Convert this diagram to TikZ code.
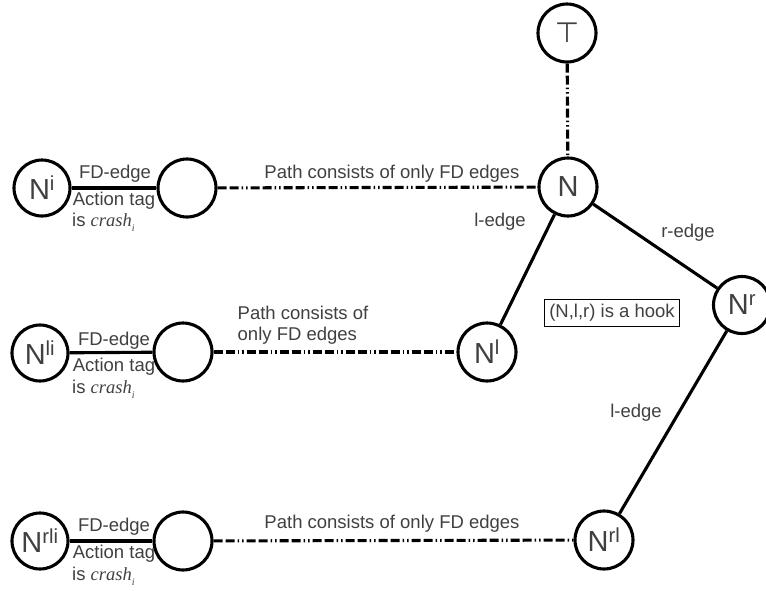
\documentclass[tikz,border=0pt]{standalone}
\usepackage{fontspec}
\setmainfont{Liberation Sans}
\newfontfamily\serifit{Liberation Serif}
\newfontfamily\symfont{DejaVu Sans}
\begin{document}
\begin{tikzpicture}[x=1pt,y=-1pt,
  vert/.style={circle,draw=black,line width=3.1pt,minimum size=58pt,inner sep=0pt,
    text=black!75,font=\fontsize{29}{31}\selectfont},
  lbl/.style={text=black!75,font=\fontsize{18.5}{21}\selectfont,inner sep=1pt},
  edge/.style={line width=3.1pt},
  fdpath/.style={line width=3.1pt,dash pattern=on 9pt off 3pt on 9pt off 3pt on 1.5pt off 3pt on 1.5pt off 3pt}]
\useasboundingbox (0,0) rectangle (766,590);
\newcommand{\crashtag}{is {\serifit\itshape crash}\raisebox{-5pt}{\fontsize{10}{10}\selectfont\serifit\itshape i}}

% top and the hook node
\node[vert,font=\symfont\fontsize{28}{30}\selectfont] (top) at (567,33) {⊤};
\node[vert] (n) at (568,187) {N};
\node[vert] (nl) at (487,352) {N\textsuperscript{l}};
\node[vert,minimum size=57pt] (nr) at (742,305) {N\textsuperscript{r}};
\node[vert] (nrl) at (604,540) {N\textsuperscript{rl}};

% left-hand chains
\node[vert,minimum size=56pt] (ni) at (42,188) {N\textsuperscript{i}};
\node[vert] (ei) at (187,188) {};
\node[vert,minimum size=56pt] (nli) at (40,353) {N\textsuperscript{li}};
\node[vert] (eli) at (183,352) {};
\node[vert,minimum size=56pt] (nrli) at (40,541) {N\textsuperscript{rli}};
\node[vert] (erli) at (183,541) {};

% tree edges
\draw[fdpath] (top) -- (n);
\draw[edge] (n) -- (nl);
\draw[edge] (n) -- (nr);
\draw[edge] (nr) -- (nrl);

% FD paths
\draw[fdpath] (ei) -- (n);
\draw[fdpath] (eli) -- (nl);
\draw[fdpath] (erli) -- (nrl);

% FD edges with action tags
\draw[edge] (ni) -- (ei);
\draw[edge] (nli) -- (eli);
\draw[edge] (nrli) -- (erli);

\node[lbl] (fd1) at (115,174) {FD-edge};
\node[lbl] (at1) at (114,201) {Action tag};
\node[lbl,anchor=west] (cr1) at (71,222) {\crashtag};
\node[lbl] (fd2) at (114,341) {FD-edge};
\node[lbl] (at2) at (114,367) {Action tag};
\node[lbl,anchor=west] (cr2) at (71,389) {\crashtag};
\node[lbl] (fd3) at (114,527) {FD-edge};
\node[lbl] (at3) at (114,554) {Action tag};
\node[lbl,anchor=west] (cr3) at (71,576) {\crashtag};

% path labels
\node[lbl] (p1) at (392,174) {Path consists of only FD edges};
\node[lbl,align=left] (p2) at (303,325) {Path consists of\\only FD edges};
\node[lbl] (p3) at (392,524) {Path consists of only FD edges};

% edge labels
\node[lbl] (le1) at (500,222) {l-edge};
\node[lbl] (re) at (688,233) {r-edge};
\node[lbl] (le2) at (636,413) {l-edge};

\node[lbl,draw=black,line width=1.2pt,inner xsep=5pt,inner ysep=5pt] (hook) at (612,313) {(N,l,r) is a hook};
\end{tikzpicture}
\end{document}
